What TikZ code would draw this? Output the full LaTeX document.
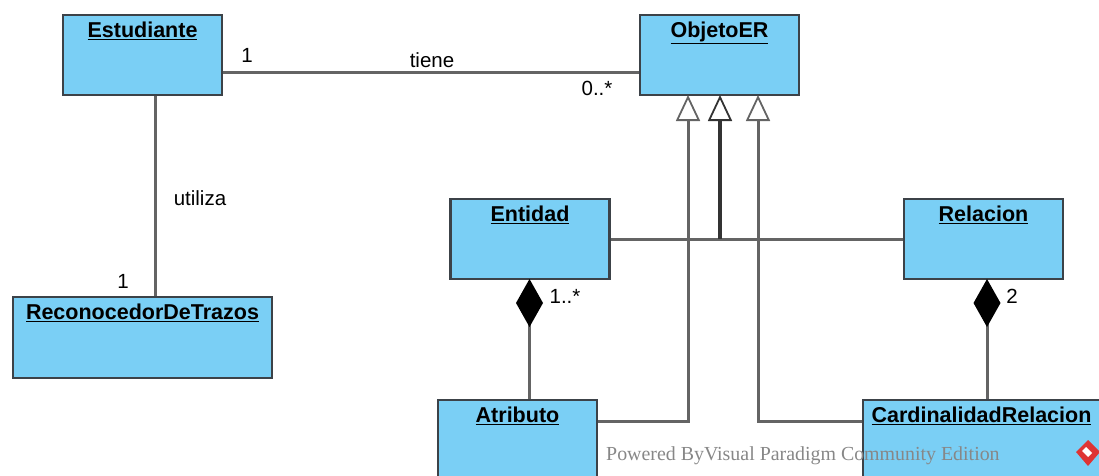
\documentclass[tikz,border=0pt]{standalone}
\usepackage{fontspec}
\setmainfont{Liberation Sans}
\newfontfamily\marcafont{Liberation Serif}
\usetikzlibrary{arrows.meta,positioning}
\definecolor{relleno}{RGB}{122,207,245}
\definecolor{borde}{RGB}{60,66,72}
\definecolor{linea}{RGB}{100,100,100}
\definecolor{marca}{RGB}{135,135,135}
\definecolor{logo}{RGB}{222,52,52}
\newcommand{\titulo}[1]{\textbf{\underline{#1}}}

\begin{document}
\begin{tikzpicture}[x=1pt,y=-1pt,
	clase/.style={draw=borde,fill=relleno,line width=2.8pt,minimum width=159pt,minimum height=80pt,inner sep=0pt},
	nombre/.style={anchor=north,inner sep=2pt,font=\fontsize{21.5}{25}\selectfont},
	etiq/.style={inner sep=0pt,font=\fontsize{20.5}{24}\selectfont},
	asoc/.style={draw=linea,line width=3pt},
	gen/.style={draw=linea,line width=3pt,-{Triangle[open,width=24pt,length=26pt,line width=1.8pt,fill=white]}},
	comp/.style={draw=linea,line width=3pt,-{Diamond[width=27pt,length=48pt,fill=black,color=black]}}]
\useasboundingbox (0,0) rectangle (1099,475);

% clases
\node[clase] (est) at (142.5,55) {};
\node[nombre, below=6pt of est.north, anchor=north] {\titulo{Estudiante}};
\node[clase] (obj) at (719.5,55) {};
\node[nombre, below=6pt of obj.north, anchor=north] {\titulo{ObjetoER}};
\node[clase] (ent) at (530,239) {};
\node[nombre, below=6pt of ent.north, anchor=north] {\titulo{Entidad}};
\node[clase] (rel) at (983.5,239) {};
\node[nombre, below=6pt of rel.north, anchor=north] {\titulo{Relacion}};
\node[clase, minimum width=259pt, minimum height=81pt] (rec) at (142.5,337.5) {};
\node[nombre, below=6pt of rec.north, anchor=north] {\titulo{ReconocedorDeTrazos}};
\node[clase] (atr) at (517.5,440) {};
\node[nombre, below=6pt of atr.north, anchor=north] {\titulo{Atributo}};
\node[clase, minimum width=237pt] (card) at (981.5,440) {};
\node[nombre, below=6pt of card.north, anchor=north] {\titulo{CardinalidadRelacion}};

% puntas de herencia y composicion
\coordinate (g1) at (688,95);
\coordinate (g2) at (720,95);
\coordinate (g3) at (758,95);
\coordinate (d1) at (529.5,279);
\coordinate (d2) at (987,279);

% asociaciones
\draw[asoc] ([yshift=-17pt]est.east) -- ([yshift=-17pt]obj.west);
\node[etiq] (m1) at (247,55) {1};
\node[etiq] (tiene) at (432,60) {tiene};
\node[etiq] (m2) at (597,88) {0..*};
\draw[asoc] ([xshift=12.5pt]est.south) -- ([xshift=12.5pt]est.south |- rec.north);
\node[etiq] (utiliza) at (200,198) {utiliza};
\node[etiq] (m3) at (123,281) {1};

% herencia
\draw[asoc] (ent.east) -- (rel.west);
\draw[gen] ([yshift=19pt]atr.east) -| (g1);
\draw[gen] ([yshift=19pt]card.west) -| (g3);
\draw[gen, draw=black!80, line width=3.4pt] (ent.east -| g2) -- (g2);

% composicion
\draw[comp] (d1 |- atr.north) -- (d1);
\node[etiq] (m4) at (565,296) {1..*};
\draw[comp] (d2 |- card.north) -- (d2);
\node[etiq] (m5) at (1012,296) {2};

% marca de agua
\node[anchor=base west, inner sep=0pt, text=marca, font=\marcafont\fontsize{19.9}{22}\selectfont] (vp) at (606,460) {Powered ByVisual Paradigm Community Edition};
\fill[logo] (1088,440) -- (1100,452) -- (1088,466) -- (1076,452) -- cycle;
\fill[white] (1086,447) -- (1092,453) -- (1088,457) -- (1082,451) -- cycle;
\end{tikzpicture}
\end{document}
